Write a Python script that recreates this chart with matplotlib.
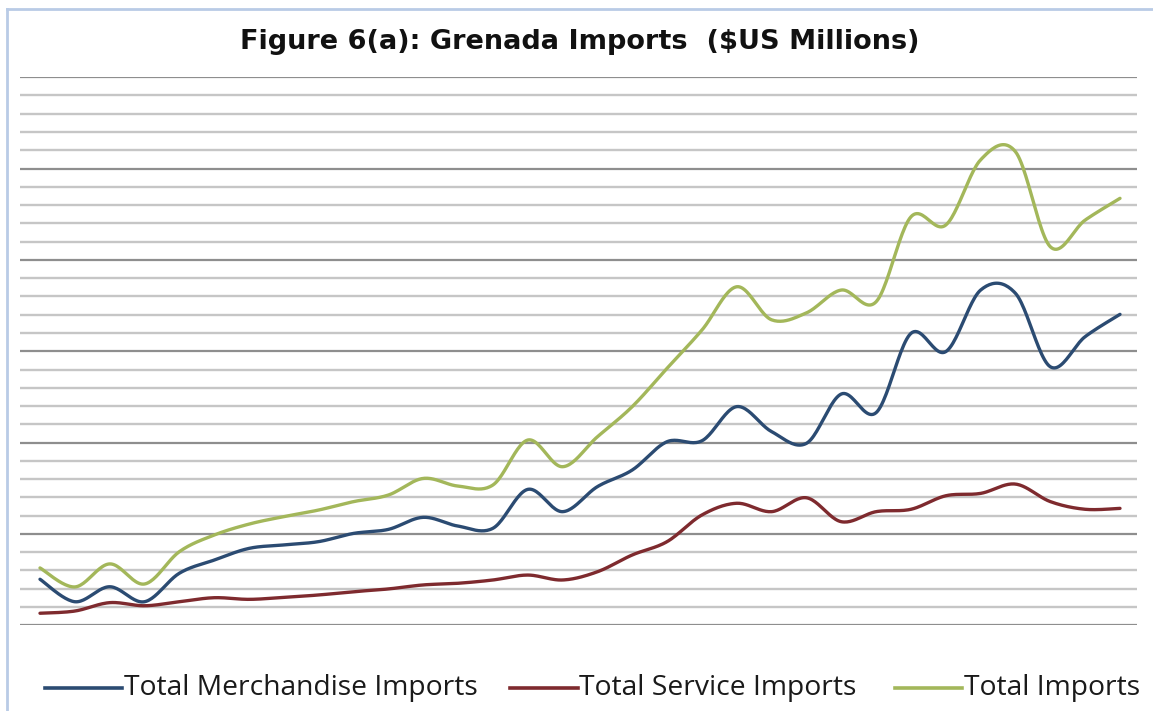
import numpy as np
import matplotlib
matplotlib.use("Agg")
import matplotlib.pyplot as plt
from matplotlib.lines import Line2D

# Grenada imports, $US millions, 1980-2011
years = list(range(1980, 2012))
merchandise = [25.2, 12.9, 21.1, 12.9, 28.5, 35.7, 42.1, 44.0, 45.8, 50.3,
               52.5, 59.1, 54.3, 53.1, 74.4, 62.2, 75.9, 85.0, 100.5, 101.0,
               119.7, 106.0, 99.6, 126.6, 116.4, 159.8, 149.8, 183.5, 181.7,
               141.5, 158.0, 170.2]
services = [6.6, 7.8, 12.4, 10.7, 12.9, 15.1, 14.2, 15.3, 16.6, 18.4,
            19.9, 22.1, 23.0, 24.8, 27.5, 24.8, 29.3, 38.5, 45.8, 60.4,
            66.8, 62.2, 69.8, 56.7, 62.2, 63.5, 70.9, 72.2, 77.3, 67.7,
            63.5, 64.0]
total = [31.4, 21.0, 33.6, 22.6, 40.3, 49.4, 55.4, 59.5, 63.1, 67.7,
         71.3, 80.4, 76.2, 76.8, 101.4, 86.8, 103.2, 119.7, 140.7, 161.6,
         185.3, 167.2, 171.0, 183.5, 177.1, 223.6, 219.1, 254.8, 259.2,
         207.2, 221.8, 233.7]

series = [
    ("Total Merchandise Imports", merchandise, "#2b4b72"),
    ("Total Service Imports", services, "#7e2a2e"),
    ("Total Imports", total, "#a3b75a"),
]


def smooth(xs, ys, n=24):
    """Cubic Bezier smoothing through every point (Catmull-Rom style)."""
    xs = np.asarray(xs, float)
    ys = np.asarray(ys, float)
    pts = np.column_stack([xs, ys])
    out = []
    t = np.linspace(0, 1, n, endpoint=False)[:, None]
    for i in range(len(pts) - 1):
        p0 = pts[i - 1] if i > 0 else pts[i]
        p1 = pts[i]
        p2 = pts[i + 1]
        p3 = pts[i + 2] if i + 2 < len(pts) else pts[i + 1]
        c1 = p1 + (p2 - p0) / 6.0
        c2 = p2 - (p3 - p1) / 6.0
        seg = ((1 - t) ** 3) * p1 + 3 * ((1 - t) ** 2) * t * c1 \
            + 3 * (1 - t) * t ** 2 * c2 + t ** 3 * p2
        out.append(seg)
    out.append(pts[-1:])
    arr = np.vstack(out)
    return arr[:, 0], arr[:, 1]


fig = plt.figure(figsize=(11.53, 7.11), dpi=100)
fig.patch.set_facecolor("white")

ax = fig.add_axes([20 / 1153, 1 - 625.3 / 711, 1117 / 1153, 548.1 / 711])
ax.set_xlim(years[0] - 0.574, years[-1] + 0.488)
ax.set_ylim(0, 300)

# horizontal gridlines: heavier every 50, light every 10
for v in range(0, 301, 10):
    if v % 50 == 0:
        ax.axhline(v, color="#8e8e8e", lw=1.6, zorder=1)
    else:
        ax.axhline(v, color="#c6c6c6", lw=1.7, zorder=1)

for name, vals, col in series:
    sx, sy = smooth(years, vals)
    ax.plot(sx, sy, color=col, lw=2.4, solid_capstyle="round", zorder=3)

ax.set_xticks([])
ax.set_yticks([])
for s in ax.spines.values():
    s.set_visible(False)
ax.patch.set_alpha(0)

fig.text(580 / 1153, 1 - 42 / 711, "Figure 6(a): Grenada Imports  ($US Millions)",
         ha="center", va="center", fontsize=19.5, fontweight="bold",
         family="DejaVu Sans", color="#111111")

# legend drawn along the bottom
legend_items = [
    (45, 122, 124, series[0]),
    (510, 578, 579, series[1]),
    (895, 962, 964, series[2]),
]
ly = 1 - 688 / 711
for x0, x1, xt, (name, _, col) in legend_items:
    fig.add_artist(Line2D([x0 / 1153, x1 / 1153], [ly, ly], color=col, lw=2.6,
                          transform=fig.transFigure))
    fig.text(xt / 1153, ly, name, ha="left", va="center", fontsize=20.3,
             family="Open Sans", color="#1a1a1a")

# light frame along the top and left edge
fig.add_artist(Line2D([7 / 1153, 1.0], [1 - 9 / 711, 1 - 9 / 711],
                      color="#b9cbe6", lw=2, transform=fig.transFigure))
fig.add_artist(Line2D([7 / 1153, 7 / 1153], [0, 1 - 9 / 711],
                      color="#b9cbe6", lw=2, transform=fig.transFigure))

fig.savefig("out.png", dpi=100, facecolor="white")
